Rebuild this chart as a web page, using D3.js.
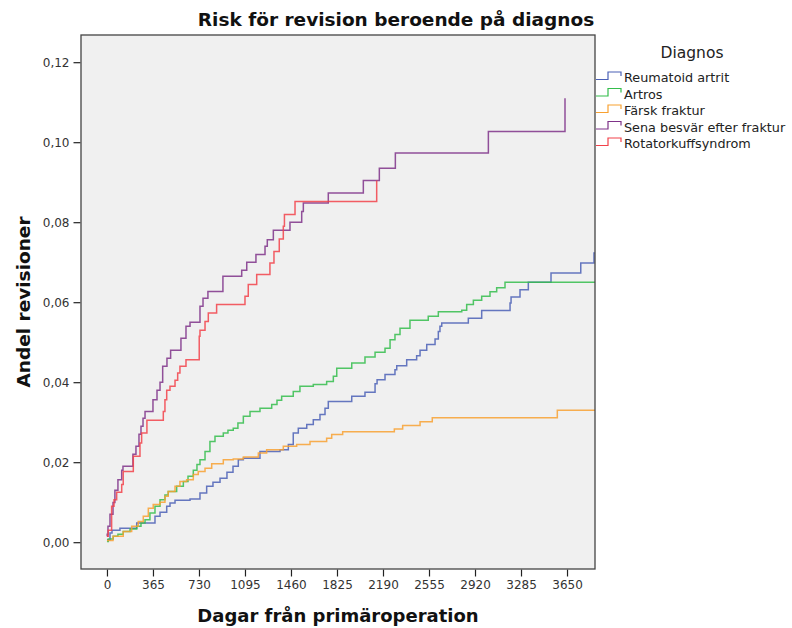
<!DOCTYPE html>
<html>
<head>
<meta charset="utf-8">
<script src="https://cdn.jsdelivr.net/npm/d3@7"></script>
<style>
  body { margin: 0; background: #fff; }
  text { font-family: "DejaVu Sans", sans-serif; }
</style>
</head>
<body>
<div id="chart"></div>
<script>
// Kaplan-Meier style cumulative revision risk, one step curve per diagnosis
var diagnoses = ["Reumatoid artrit", "Artros", "Färsk fraktur", "Sena besvär efter fraktur", "Rotatorkuffsyndrom"];

// [day, share] – value holds from that day on; last entry marks where the curve stops
var reumatoid = [[0, 0.0006], [24, 0.0023], [40, 0.003], [103, 0.0035], [236, 0.0048], [381, 0.0065], [421, 0.0075],
    [474, 0.009], [500, 0.0098], [540, 0.0105], [659, 0.0108], [738, 0.0123], [791, 0.014], [841, 0.015], [897, 0.016],
    [952, 0.0175], [1000, 0.019], [1042, 0.0206], [1082, 0.021], [1214, 0.0227], [1373, 0.0231], [1439, 0.0244],
    [1478, 0.0273], [1518, 0.0285], [1585, 0.0294], [1637, 0.0306], [1690, 0.0319], [1730, 0.0335], [1756, 0.0352],
    [1942, 0.0365], [2047, 0.0375], [2127, 0.0396], [2143, 0.0406], [2206, 0.0419], [2285, 0.0431], [2299, 0.0441],
    [2378, 0.0456], [2457, 0.0466], [2484, 0.048], [2537, 0.0494], [2603, 0.0508], [2629, 0.0527], [2642, 0.054],
    [2656, 0.0548], [2867, 0.056], [2973, 0.0579], [3198, 0.0598], [3206, 0.0613], [3277, 0.0631], [3343, 0.065],
    [3523, 0.0673], [3759, 0.0698], [3864, 0.0723], [3900, 0.0723]];

var artros = [[0, 0.0002], [10, 0.0008], [50, 0.0015], [87, 0.002], [129, 0.0027], [183, 0.0033], [236, 0.004],
    [270, 0.0048], [302, 0.0056], [341, 0.0073], [381, 0.009], [421, 0.0106], [460, 0.0118], [486, 0.0127],
    [553, 0.014], [606, 0.0152], [643, 0.0165], [685, 0.018], [714, 0.0194], [738, 0.0206], [778, 0.0227],
    [817, 0.0252], [857, 0.0265], [923, 0.0273], [960, 0.028], [1002, 0.0285], [1039, 0.0298], [1082, 0.0315],
    [1135, 0.0327], [1214, 0.0335], [1307, 0.0344], [1349, 0.0355], [1386, 0.0365], [1478, 0.0377], [1531, 0.039],
    [1637, 0.0394], [1743, 0.0402], [1796, 0.0415], [1823, 0.0435], [1942, 0.0448], [2047, 0.0463], [2127, 0.0475],
    [2206, 0.0485], [2246, 0.0506], [2285, 0.0519], [2325, 0.0535], [2404, 0.0555], [2549, 0.0565], [2629, 0.0576],
    [2815, 0.058], [2854, 0.0594], [2907, 0.0605], [2973, 0.0615], [3039, 0.0626], [3092, 0.0636], [3158, 0.065],
    [3900, 0.065]];

var farskFraktur = [[0, 0.0004], [48, 0.0015], [129, 0.0027], [196, 0.004], [248, 0.0052], [288, 0.0065],
    [328, 0.0085], [367, 0.0094], [421, 0.01], [460, 0.0115], [486, 0.0127], [540, 0.014], [579, 0.0152],
    [632, 0.0156], [685, 0.0169], [724, 0.0177], [778, 0.0185], [831, 0.0196], [923, 0.0206], [1002, 0.0208],
    [1082, 0.0213], [1201, 0.0223], [1267, 0.0231], [1399, 0.024], [1505, 0.0244], [1611, 0.0252], [1743, 0.026],
    [1783, 0.0269], [1870, 0.0276], [2280, 0.0283], [2346, 0.0292], [2484, 0.0301], [2581, 0.0311], [3573, 0.033],
    [3900, 0.033]];

var senaBesvar = [[0, 0.0015], [2, 0.002], [8, 0.004], [24, 0.007], [48, 0.0099], [63, 0.013], [87, 0.0156],
    [117, 0.018], [127, 0.019], [206, 0.022], [230, 0.024], [254, 0.027], [270, 0.029], [286, 0.031], [302, 0.0327],
    [365, 0.0356], [397, 0.038], [421, 0.04], [442, 0.044], [476, 0.046], [505, 0.048], [587, 0.051], [627, 0.054],
    [659, 0.055], [738, 0.059], [762, 0.061], [801, 0.0627], [920, 0.0665], [1069, 0.068], [1109, 0.07],
    [1182, 0.0719], [1254, 0.074], [1272, 0.0756], [1320, 0.078], [1452, 0.08], [1545, 0.0827], [1558, 0.0848],
    [1756, 0.0873], [2034, 0.0904], [2161, 0.0935], [2288, 0.0973], [3026, 0.1027], [3634, 0.111]];

var rotatorkuff = [[0, 0.0015], [10, 0.003], [37, 0.009], [56, 0.0106], [77, 0.0125], [117, 0.0144], [129, 0.0177],
    [209, 0.0215], [262, 0.0248], [275, 0.0273], [317, 0.0305], [447, 0.0327], [460, 0.0356], [474, 0.038],
    [500, 0.039], [540, 0.0405], [561, 0.0423], [579, 0.044], [627, 0.0456], [732, 0.0515], [738, 0.053],
    [778, 0.0552], [804, 0.0573], [870, 0.0594], [1095, 0.0615], [1121, 0.0644], [1188, 0.0669], [1293, 0.0698],
    [1325, 0.0727], [1367, 0.0758], [1399, 0.079], [1408, 0.0819], [1492, 0.0852], [2140, 0.0904]];

var seriesData = [reumatoid, artros, farskFraktur, senaBesvar, rotatorkuff];

var xTicks = [0, 365, 730, 1095, 1460, 1825, 2190, 2555, 2920, 3285, 3650];
var yTicks = [0, 0.02, 0.04, 0.06, 0.08, 0.10, 0.12];

var w = 792, h = 628;
var plot = { left: 81, right: 595, top: 35, bottom: 569 };

var svg = d3.select("#chart")
    .append("svg")
    .attr("width", w)
    .attr("height", h);

var x = d3.scaleLinear()
    .domain([-206, 3872])
    .range([plot.left, plot.right]);

var y = d3.scaleLinear()
    .domain([-0.0067, 0.1268])
    .range([plot.bottom, plot.top]);

var color = d3.scaleOrdinal()
    .domain(diagnoses)
    .range(["#4b60b6", "#34bd4c", "#f8a131", "#7f3389", "#f2424a"]);

var sv = d3.formatLocale({ decimal: ",", thousands: " ", grouping: [3], currency: ["", " kr"] });

// plot background
svg.append("rect")
    .attr("x", plot.left)
    .attr("y", plot.top)
    .attr("width", plot.right - plot.left)
    .attr("height", plot.bottom - plot.top)
    .style("fill", "#f0f0f0");

svg.append("clipPath")
    .attr("id", "clip")
    .append("rect")
    .attr("x", plot.left)
    .attr("y", plot.top)
    .attr("width", plot.right - plot.left)
    .attr("height", plot.bottom - plot.top);

// axes
var yAxis = svg.append("g")
    .attr("transform", `translate(${plot.left - 0.5},0)`)
    .call(d3.axisLeft(y).tickValues(yTicks).tickSize(7).tickPadding(4).tickFormat(sv.format(".2f")));

var xAxis = svg.append("g")
    .attr("transform", `translate(0,${plot.bottom + 0.5})`)
    .call(d3.axisBottom(x).tickValues(xTicks).tickSize(7).tickPadding(4).tickFormat(d3.format("d")));

[yAxis, xAxis].forEach(function (g) {
    g.select(".domain").remove();
    g.selectAll("line").style("stroke", "#222").style("stroke-width", 1.2);
    g.selectAll("text").style("font-size", "12px").style("fill", "#333");
});

// curves
var line = d3.line()
    .x((d) => x(d[0]))
    .y((d) => y(d[1]))
    .curve(d3.curveStepAfter);

svg.append("g")
    .attr("clip-path", "url(#clip)")
    .selectAll("path")
    .data(seriesData)
    .enter()
    .append("path")
    .attr("d", line)
    .style("fill", "none")
    .style("stroke", (d, i) => color(diagnoses[i]))
    .style("stroke-width", 1.5)
    .style("stroke-opacity", 0.85);

// frame
svg.append("rect")
    .attr("x", plot.left)
    .attr("y", plot.top)
    .attr("width", plot.right - plot.left)
    .attr("height", plot.bottom - plot.top)
    .style("fill", "none")
    .style("stroke", "#444")
    .style("stroke-width", 1.3);

// titles
svg.append("text")
    .attr("x", w / 2)
    .attr("y", 26)
    .attr("text-anchor", "middle")
    .style("font-size", "18.5px")
    .style("font-weight", "bold")
    .style("fill", "#111")
    .text("Risk för revision beroende på diagnos");

svg.append("text")
    .attr("x", (plot.left + plot.right) / 2)
    .attr("y", 622)
    .attr("text-anchor", "middle")
    .style("font-size", "18px")
    .style("font-weight", "bold")
    .style("fill", "#111")
    .text("Dagar från primäroperation");

svg.append("text")
    .attr("transform", `translate(30,${(plot.top + plot.bottom) / 2}) rotate(-90)`)
    .attr("text-anchor", "middle")
    .style("font-size", "18.5px")
    .style("font-weight", "bold")
    .style("fill", "#111")
    .text("Andel revisioner");

// legend
var legend = svg.append("g");

legend.append("text")
    .attr("x", 692)
    .attr("y", 58)
    .attr("text-anchor", "middle")
    .style("font-size", "15.5px")
    .style("fill", "#222")
    .text("Diagnos");

var items = legend.selectAll(".item")
    .data(diagnoses)
    .enter()
    .append("g")
    .attr("class", "item")
    .attr("transform", (d, i) => `translate(0,${77.5 + i * 16.5})`);

items.append("path")
    .attr("d", "M596,2H608V-5.5H621V-1.5")
    .style("fill", "none")
    .style("stroke", (d) => color(d))
    .style("stroke-width", 1.2);

items.append("text")
    .attr("x", 624)
    .attr("y", 4.5)
    .style("font-size", "12.8px")
    .style("fill", "#222")
    .text((d) => d);
</script>
</body>
</html>
